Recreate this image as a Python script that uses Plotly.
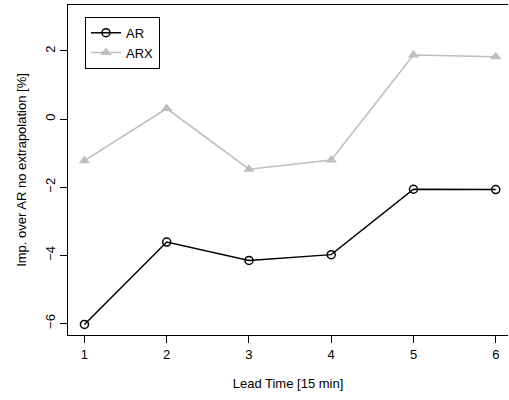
import plotly.graph_objects as go

lead_time = [1, 2, 3, 4, 5, 6]
ar = [-6.03, -3.61, -4.15, -3.98, -2.06, -2.07]
arx = [-1.22, 0.31, -1.47, -1.20, 1.88, 1.83]
x_ticks = [1, 2, 3, 4, 5, 6]
y_ticks = [-6, -4, -2, 0, 2]

FONT = "Liberation Sans"

fig = go.Figure()
fig.add_trace(go.Scatter(
    x=lead_time, y=ar, name="AR", mode="lines+markers",
    line=dict(color="black", width=1.5),
    marker=dict(symbol="circle-open", size=8, color="black", line=dict(width=1.5)),
))
fig.add_trace(go.Scatter(
    x=lead_time, y=arx, name="ARX", mode="lines+markers",
    line=dict(color="#BEBEBE", width=1.5),
    marker=dict(symbol="triangle-up", size=10, color="#BEBEBE"),
))

fig.update_layout(
    width=509, height=400,
    margin=dict(l=68, r=1, t=5, b=65, autoexpand=False),
    paper_bgcolor="white", plot_bgcolor="white",
    font=dict(family=FONT, size=13, color="black"),
    showlegend=True,
    legend=dict(
        x=(85 - 68) / 440, y=1 - (16.7 - 5) / 330, xanchor="left", yanchor="top",
        bordercolor="black", borderwidth=1, bgcolor="white",
        font=dict(family=FONT, size=13, color="black"),
        tracegroupgap=0,
    ),
    xaxis=dict(
        range=[0.8, 6.149], tickvals=x_ticks, ticktext=[str(v) for v in x_ticks],
        showgrid=False, zeroline=False, showline=True, linecolor="black", linewidth=1,
        mirror=True, ticks="outside", ticklen=7, tickcolor="black",
        tickfont=dict(size=13),
        title=dict(text="Lead Time [15 min]", standoff=18, font=dict(size=13)),
    ),
    yaxis=dict(
        range=[-6.34, 3.35], tickvals=y_ticks, ticktext=[("\u2212" + str(-v)) if v < 0 else str(v) for v in y_ticks],
        tickangle=-90, tickfont=dict(size=13),
        showgrid=False, zeroline=False, showline=True, linecolor="black", linewidth=1,
        mirror=False, ticks="outside", ticklen=7, tickcolor="black",
        title=dict(text="Imp. over AR no extrapolation [%]", standoff=13, font=dict(size=13)),
    ),
)

fig.write_html("out.html", config={"displayModeBar": False},
               post_script="document.body.style.margin='0';document.body.style.padding='0';")
